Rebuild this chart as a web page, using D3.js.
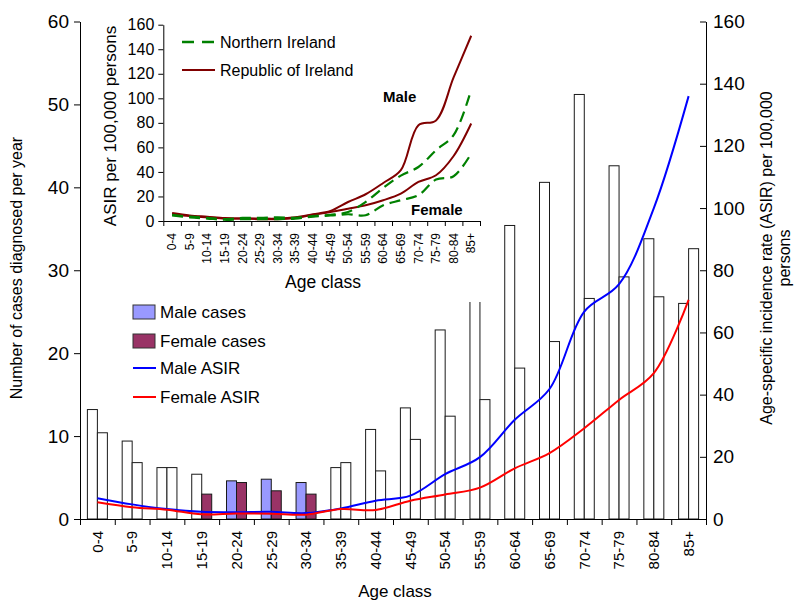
<!DOCTYPE html>
<html>
<head>
<meta charset="utf-8">
<script src="https://cdn.jsdelivr.net/npm/d3@7"></script>
<style>
  body { margin: 0; background: #fff; }
  svg text { font-family: "Liberation Sans", Arial, sans-serif; fill: #000; }
</style>
</head>
<body>
<div id="chart"></div>
<script>
// age classes shared by main chart and inset
var ages = ["0-4", "5-9", "10-14", "15-19", "20-24", "25-29", "30-34", "35-39", "40-44",
            "45-49", "50-54", "55-59", "60-64", "65-69", "70-74", "75-79", "80-84", "85+"];

// cases diagnosed per year (left axis)
var maleCases   = [13.2, 9.4, 6.2, 5.4, 4.6, 4.8, 4.4, 6.2, 10.8, 13.4, 22.8, 30.0, 35.4, 40.6, 51.2, 42.6, 33.8, 26.0];
var femaleCases = [10.4, 6.8, 6.2, 3.0, 4.4, 3.4, 3.0, 6.8, 5.8, 9.6, 12.4, 14.4, 18.2, 21.4, 26.6, 29.2, 26.8, 32.6];

// bars drawn with a fill colour (the rest are white)
var maleFilled   = ["20-24", "25-29", "30-34"];
var femaleFilled = ["15-19", "20-24", "25-29", "30-34"];

// ASIR per 100,000 (right axis)
var maleAsir   = [6.7, 4.7, 3.2, 2.3, 2.2, 2.3, 1.9, 3.4, 5.9, 7.5, 14.4, 19.9, 31.9, 41.8, 66.7, 75.5, 100, 136];
var femaleAsir = [5.4, 3.8, 3.0, 1.5, 1.8, 1.7, 1.4, 3.2, 2.9, 5.9, 7.9, 10.1, 16.3, 21.2, 29.2, 38.3, 46.9, 70.5];

// inset: Northern Ireland vs Republic of Ireland
var niMale    = [5.0, 3.5, 2.5, 1.5, 2.5, 2.5, 3.0, 2.5, 4.0, 5.0, 7.3, 15.5, 27.0, 37.0, 44.0, 57.7, 70.0, 107];
var niFemale  = [4.5, 3.0, 2.0, 1.0, 1.5, 1.5, 1.5, 2.0, 3.5, 4.5, 5.5, 4.7, 12.8, 16.9, 21.0, 33.8, 36.5, 55.0];
var roiMale   = [6.5, 4.5, 3.5, 2.5, 2.0, 2.0, 2.0, 3.0, 5.5, 8.2, 15.5, 21.8, 31.0, 41.4, 78.0, 82.0, 117, 151];
var roiFemale = [5.5, 4.0, 3.0, 2.0, 2.0, 1.5, 1.5, 2.5, 5.0, 7.3, 10.0, 12.8, 16.9, 22.3, 31.8, 37.3, 53.0, 79.5];

// tick values
var caseTicks = [0, 10, 20, 30, 40, 50, 60];
var asirTicks = [0, 20, 40, 60, 80, 100, 120, 140, 160];

// colours
var maleFill = "#9999ff";
var femaleFill = "#993366";
var maleLine = "#0000ff";
var femaleLine = "#ff0000";
var niColor = "#008000";
var roiColor = "#800000";
var niDash = "11,6";

var width = 804, height = 600;
var svg = d3.select("#chart").append("svg")
            .attr("width", width)
            .attr("height", height);

// ---------- main chart ----------
var plot = {left: 80, right: 706, top: 21.5, bottom: 519};

var xScale = d3.scaleBand().domain(ages).range([plot.left, plot.right]);
var sexScale = d3.scaleBand().domain(["male", "female"])
                 .range([0, xScale.bandwidth()])
                 .paddingOuter(0.74);
var xIdx = d3.scaleLinear().domain([0, ages.length]).range([plot.left, plot.right]);
var yCases = d3.scaleLinear().domain([0, 60]).range([plot.bottom, plot.top]);
var yAsir = d3.scaleLinear().domain([0, 160]).range([plot.bottom, plot.top]);

var rows = ages.map(function(a, i) {
  return {age: a, male: maleCases[i], female: femaleCases[i]};
});

function drawBars(sex, filledList, fill) {
  svg.append("g").selectAll("rect")
     .data(rows)
     .enter().append("rect")
     .attr("x", function(d) { return xScale(d.age) + sexScale(sex); })
     .attr("width", sexScale.bandwidth())
     .attr("y", function(d) { return yCases(d[sex]); })
     .attr("height", function(d) { return plot.bottom - yCases(d[sex]); })
     .attr("fill", function(d) { return filledList.indexOf(d.age) >= 0 ? fill : "#fff"; })
     .attr("stroke", "#1a1a1a")
     .attr("stroke-width", 1);
}
drawBars("male", maleFilled, maleFill);
drawBars("female", femaleFilled, femaleFill);

var asirLine = d3.line()
  .x(function(d, i) { return xScale(ages[i]) + xScale.bandwidth() / 2; })
  .y(function(d) { return yAsir(d); })
  .curve(d3.curveCatmullRom);

svg.append("path").attr("d", asirLine(maleAsir))
   .attr("fill", "none").attr("stroke", maleLine).attr("stroke-width", 2);
svg.append("path").attr("d", asirLine(femaleAsir))
   .attr("fill", "none").attr("stroke", femaleLine).attr("stroke-width", 2);

// axes
var gLeft = svg.append("g")
  .attr("transform", "translate(" + plot.left + ",0)")
  .call(d3.axisLeft(yCases).tickValues(caseTicks).tickSize(6).tickSizeOuter(0).tickPadding(5));
var gRight = svg.append("g")
  .attr("transform", "translate(" + plot.right + ",0)")
  .call(d3.axisRight(yAsir).tickValues(asirTicks).tickSizeInner(-6).tickSizeOuter(0).tickPadding(7));
var gBottom = svg.append("g")
  .attr("transform", "translate(0," + plot.bottom + ")")
  .call(d3.axisBottom(xIdx).tickValues(d3.range(ages.length + 1))
          .tickFormat("").tickSize(6).tickSizeOuter(0));
[gLeft, gRight].forEach(function(g) {
  g.attr("font-size", 19).attr("font-family", null);
});

svg.append("g").selectAll("text")
   .data(ages)
   .enter().append("text")
   .attr("transform", function(d) {
     return "translate(" + (xScale(d) + xScale.bandwidth() / 2) + ",531) rotate(-90)";
   })
   .attr("text-anchor", "end")
   .attr("dy", "0.35em")
   .attr("font-size", 15)
   .text(function(d) { return d; });

svg.append("text")
   .attr("x", 395).attr("y", 597)
   .attr("text-anchor", "middle")
   .attr("font-size", 17)
   .text("Age class");

svg.append("text")
   .attr("transform", "translate(22,268) rotate(-90)")
   .attr("text-anchor", "middle")
   .attr("font-size", 16)
   .text("Number of cases diagnosed per year");

var rightTitle = svg.append("text")
   .attr("transform", "translate(772,258) rotate(-90)")
   .attr("text-anchor", "middle")
   .attr("font-size", 16);
rightTitle.append("tspan").attr("x", 0).attr("y", 0)
   .text("Age-specific incidence rate (ASIR) per 100,000");
rightTitle.append("tspan").attr("x", 0).attr("y", 18).text("persons");

// main legend
var legend = svg.append("g").attr("font-size", 17);
var legItems = [
  {label: "Male cases", type: "box", color: maleFill, y: 312},
  {label: "Female cases", type: "box", color: femaleFill, y: 341},
  {label: "Male ASIR", type: "line", color: maleLine, y: 368},
  {label: "Female ASIR", type: "line", color: femaleLine, y: 397}
];
legItems.forEach(function(it) {
  if (it.type == "box") {
    legend.append("rect")
      .attr("x", 133).attr("y", it.y - 7).attr("width", 22).attr("height", 14)
      .attr("fill", it.color).attr("stroke", "#333");
  } else {
    legend.append("line")
      .attr("x1", 133).attr("x2", 156).attr("y1", it.y).attr("y2", it.y)
      .attr("stroke", it.color).attr("stroke-width", 2);
  }
  legend.append("text").attr("x", 160).attr("y", it.y).attr("dy", "0.35em").text(it.label);
});

// ---------- inset ----------
svg.append("rect")
   .attr("x", 84).attr("y", 0).attr("width", 408).attr("height", 302)
   .attr("fill", "#fff");

var inset = {left: 163.3, right: 480, top: 24.7, bottom: 221};
var ix = d3.scaleBand().domain(ages).range([inset.left, inset.right]);
var ixIdx = d3.scaleLinear().domain([0, ages.length]).range([inset.left, inset.right]);
var iy = d3.scaleLinear().domain([0, 160]).range([inset.bottom, inset.top]);

var gIL = svg.append("g")
  .attr("transform", "translate(" + inset.left + ",0)")
  .call(d3.axisLeft(iy).tickValues(asirTicks).tickSize(5).tickSizeOuter(0).tickPadding(4));
gIL.attr("font-size", 16).attr("font-family", null);
svg.append("g")
  .attr("transform", "translate(0," + inset.bottom + ")")
  .call(d3.axisBottom(ixIdx).tickValues(d3.range(ages.length + 1))
          .tickFormat("").tickSize(5).tickSizeOuter(0));

svg.append("g").selectAll("text")
   .data(ages)
   .enter().append("text")
   .attr("transform", function(d) {
     return "translate(" + (ix(d) + ix.bandwidth() / 2) + ",233) rotate(-90)";
   })
   .attr("text-anchor", "end")
   .attr("dy", "0.35em")
   .attr("font-size", 12)
   .text(function(d) { return d; });

svg.append("text")
   .attr("x", 323).attr("y", 288)
   .attr("text-anchor", "middle")
   .attr("font-size", 17.5)
   .text("Age class");

svg.append("text")
   .attr("transform", "translate(116,126) rotate(-90)")
   .attr("text-anchor", "middle")
   .attr("font-size", 17)
   .text("ASIR per 100,000 persons");

var insetLine = d3.line()
  .x(function(d, i) { return ix(ages[i]) + ix.bandwidth() / 2; })
  .y(function(d) { return iy(d); })
  .curve(d3.curveCatmullRom);

[roiMale, roiFemale].forEach(function(s) {
  svg.append("path").attr("d", insetLine(s))
     .attr("fill", "none").attr("stroke", roiColor).attr("stroke-width", 2);
});
[niMale, niFemale].forEach(function(s) {
  svg.append("path").attr("d", insetLine(s))
     .attr("fill", "none").attr("stroke", niColor).attr("stroke-width", 2.2)
     .attr("stroke-dasharray", niDash);
});

// inset legend
svg.append("line").attr("x1", 182).attr("x2", 215).attr("y1", 42).attr("y2", 42)
   .attr("stroke", niColor).attr("stroke-width", 2.4).attr("stroke-dasharray", "12,8");
svg.append("text").attr("x", 220).attr("y", 42).attr("dy", "0.35em")
   .attr("font-size", 16).text("Northern Ireland");
svg.append("line").attr("x1", 182).attr("x2", 215).attr("y1", 70).attr("y2", 70)
   .attr("stroke", roiColor).attr("stroke-width", 2);
svg.append("text").attr("x", 220).attr("y", 70).attr("dy", "0.35em")
   .attr("font-size", 16).text("Republic of Ireland");

svg.append("text").attr("x", 383).attr("y", 102)
   .attr("font-size", 15).attr("font-weight", "bold").text("Male");
svg.append("text").attr("x", 411).attr("y", 215)
   .attr("font-size", 15).attr("font-weight", "bold").text("Female");
</script>
</body>
</html>
